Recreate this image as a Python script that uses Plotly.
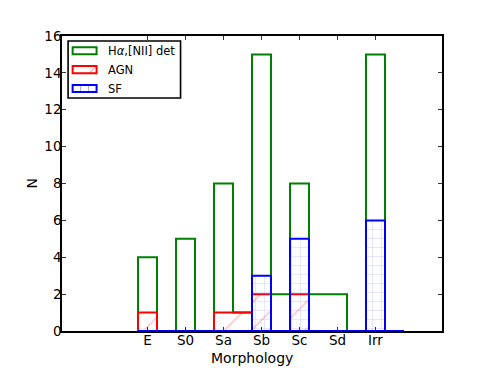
import numpy as np
import plotly.graph_objects as go

# morphology classes (half-class bins in between, e.g. Sab)
categories = ["E", "S0", "Sa", "Sb", "Sc", "Sd", "Irr"]
bin_width = 0.5

# counts per half-class bin, starting at E
det_counts = [4, 0, 5, 0, 8, 1, 15, 2, 8, 2, 2, 0, 15, 0]
agn_counts = [1, 0, 0, 0, 1, 1, 2, 0, 2, 0, 0, 0, 0, 0]
sf_counts = [0, 0, 0, 0, 0, 0, 3, 0, 5, 0, 0, 0, 6, 0]

series_names = ["H<i>α</i>,[NII] det", "AGN", "SF"]
series_colors = ["#008000", "#ff0000", "#0000ff"]
hatch_colors = [None, "rgba(255,0,0,0.55)", "rgba(0,0,255,0.35)"]


def step_outline(counts, start=1.0, width=bin_width):
    # closed outline of a histtype='step' histogram
    edges = start - width / 2 + width * np.arange(len(counts) + 1)
    xs, ys = [edges[0]], [0]
    for i, c in enumerate(counts):
        xs += [edges[i], edges[i + 1]]
        ys += [c, c]
    xs += [edges[-1], edges[0]]
    ys += [0, 0]
    return xs, ys


fig = go.Figure()

patterns = [
    None,
    dict(shape="/", fgcolor=hatch_colors[1], bgcolor="rgba(0,0,0,0)", size=19, solidity=0.07),
    dict(shape="+", fgcolor=hatch_colors[2], bgcolor="rgba(0,0,0,0)", size=9, solidity=0.12),
]
for name, counts, color, pattern in zip(series_names, [det_counts, agn_counts, sf_counts],
                                        series_colors, patterns):
    xs, ys = step_outline(counts)
    fig.add_trace(go.Scatter(
        x=xs, y=ys,
        mode="lines",
        fill="toself",
        fillcolor="rgba(0,0,0,0)",
        fillpattern=pattern,
        line=dict(color=color, width=2),
        name=name,
        showlegend=False,
    ))

# legend box in the matplotlib style (rectangle swatches)
fig.add_shape(type="rect", xref="paper", yref="paper",
              x0=0.016, x1=0.312, y0=0.79, y1=0.983,
              line=dict(color="black", width=1.6), fillcolor="white", layer="above")
row_y = [0.95, 0.886, 0.822]
for yc, name, color, hatch in zip(row_y, series_names, series_colors, hatch_colors):
    x0, x1, h = 0.028, 0.091, 0.012
    fig.add_shape(type="rect", xref="paper", yref="paper",
                  x0=x0, x1=x1, y0=yc - h, y1=yc + h,
                  line=dict(color=color, width=2), layer="above")
    if name == "AGN":
        fig.add_shape(type="line", xref="paper", yref="paper",
                      x0=x1 - 0.02, x1=x1, y0=yc - h, y1=yc + h,
                      line=dict(color=hatch, width=1), layer="above")
    elif name == "SF":
        for xv in (x0 + 0.021, x0 + 0.042):
            fig.add_shape(type="line", xref="paper", yref="paper",
                          x0=xv, x1=xv, y0=yc - h, y1=yc + h,
                          line=dict(color=hatch, width=1), layer="above")
    fig.add_annotation(xref="paper", yref="paper", x=0.117, y=yc,
                       xanchor="left", yanchor="middle", showarrow=False,
                       text=name, font=dict(size=11.5, color="black"))

# axis titles as annotations so they sit where matplotlib put them
fig.add_annotation(xref="paper", yref="paper", x=0.5, y=0, yanchor="middle",
                   yshift=-27, showarrow=False, text="Morphology",
                   font=dict(size=14, color="black"))
fig.add_annotation(xref="paper", yref="paper", x=0, y=0.5, xanchor="center",
                   xshift=-31, textangle=-90, showarrow=False, text="N",
                   font=dict(size=14, color="black"))

tick_style = dict(
    showline=True, mirror="allticks", linecolor="black", linewidth=1.6,
    ticks="inside", ticklen=4, tickcolor="#333333", tickwidth=1,
    showgrid=False, zeroline=False, automargin=False,
    tickfont=dict(size=13.5, color="black"),
)
fig.update_xaxes(
    range=[-1.25, 8.75],
    tickvals=list(range(1, len(categories) + 1)),
    ticktext=categories,
    ticklabelstandoff=-4,
    **tick_style,
)
fig.update_yaxes(
    range=[0, 16],
    dtick=2,
    ticklabelstandoff=-4,
    **tick_style,
)

# page body has an 8px margin, so the figure is shrunk by that much
fig.update_layout(
    width=483, height=360,
    margin=dict(l=54, r=49, t=28, b=37),
    paper_bgcolor="white", plot_bgcolor="white",
    font=dict(family="DejaVu Sans", color="black"),
    showlegend=False,
)

fig.write_html("out.html")
